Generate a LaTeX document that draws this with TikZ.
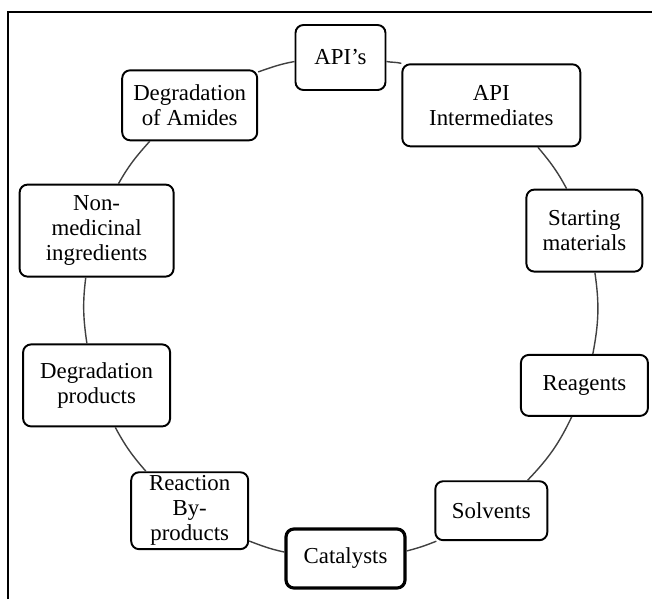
\documentclass[tikz,border=0pt]{standalone}
\usepackage{fontspec}
\setmainfont{Liberation Serif}

\begin{document}
\begin{tikzpicture}[
  x=0.02cm, y=0.02cm,
  box/.style={rectangle, rounded corners=4.5pt, draw=black, line width=1.1pt, fill=white,
              align=center, inner sep=2pt, font=\fontsize{13}{14.2}\selectfont},
  link/.style={line width=0.8pt, black!75}
]
\useasboundingbox (0,0) rectangle (652,-599);

% frame round the figure
\draw[line width=1.1pt] (8,-599) -- (8,-12) -- (652,-12);

\node[box, minimum width=1.80cm, minimum height=1.30cm] (apis)      at (340.5,-57.5) {API’s};
\node[box, minimum width=3.56cm, minimum height=1.64cm] (apiint)    at (491.3,-105.3) {API\\Intermediates};
\node[box, minimum width=2.32cm, minimum height=1.64cm] (starting)  at (584.4,-230.6) {Starting\\materials};
\node[box, minimum width=2.54cm, minimum height=1.22cm] (reagents)  at (584.4,-385.4) {Reagents};
\node[box, minimum width=2.24cm, minimum height=1.18cm] (solvents)  at (491.3,-510.7) {Solvents};
\node[box, line width=1.8pt, minimum width=2.38cm, minimum height=1.18cm] (catalysts) at (345.5,-558.5) {Catalysts};
\node[box, minimum width=2.34cm, minimum height=1.52cm] (reaction)  at (189.7,-510.7) {Reaction\\By-\\products};
\node[box, minimum width=2.94cm, minimum height=1.64cm] (degprod)   at (96.6,-385.4)  {Degradation\\products};
\node[box, minimum width=3.08cm, minimum height=1.84cm] (nonmed)    at (96.6,-230.6)  {Non-\\medicinal\\ingredients};
\node[box, minimum width=2.70cm, minimum height=1.40cm] (amides)    at (189.7,-105.3) {Degradation\\of Amides};

% arcs of the ring
\draw[link] (apis.-5)        to[out=-10.1, in=166.1] (apiint.155.6);
\draw[link] (apiint.-42.3)   to[out=-49.8, in=118.2] (starting.113.5);
\draw[link] (starting.-76.4) to[out=-81.6, in=79.2]  (reagents.75.1);
\draw[link] (reagents.-112.1) to[out=-115.5, in=46.3] (solvents.40.5);
\draw[link] (solvents.-151.7) to[out=-158, in=14.6]  (catalysts.7.8);
\draw[link] (catalysts.174.5) to[out=167.7, in=-21.1] (reaction.-27.9);
\draw[link] (reaction.138.2) to[out=131.1, in=-61.8] (degprod.-66.5);
\draw[link] (degprod.103.6)  to[out=98.4,  in=-97.2] (nonmed.-103);
\draw[link] (nonmed.65.8)    to[out=60.5,  in=-132]  (amides.-138.6);
\draw[link] (amides.26.9)    to[out=19,    in=190.1] (apis.185);

\end{tikzpicture}
\end{document}
